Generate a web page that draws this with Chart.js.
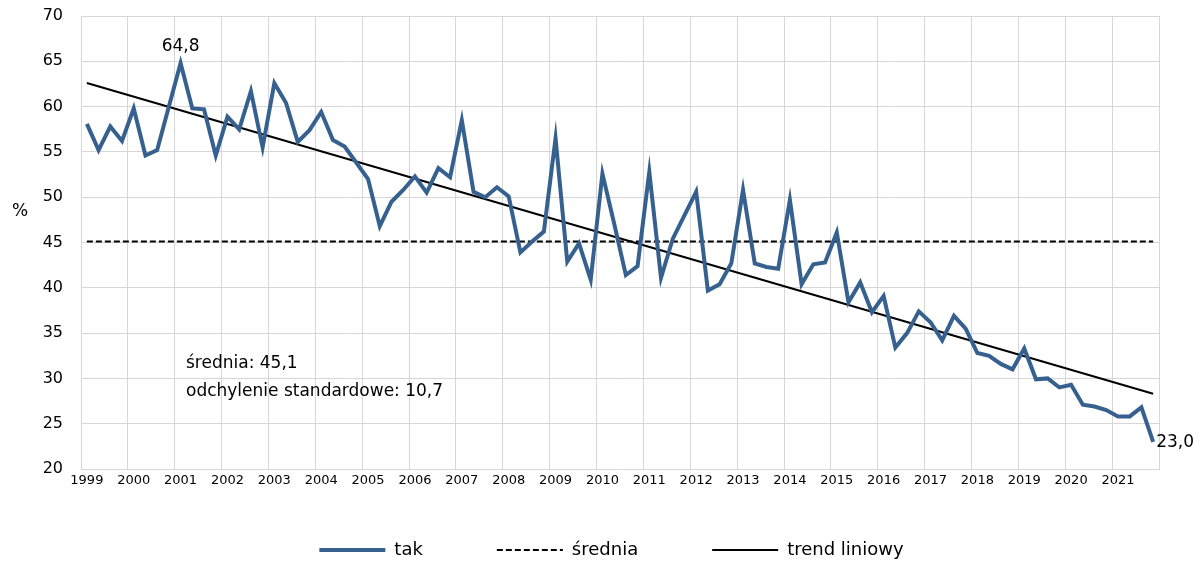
<!DOCTYPE html>
<html lang="pl">
<head>
<meta charset="utf-8">
<title>tak</title>
<script src="https://cdn.jsdelivr.net/npm/chart.js@4.4.1/dist/chart.umd.min.js"></script>
<style>
  html, body { margin: 0; padding: 0; background: #fff; }
  #wrap { width: 1203px; height: 565px; }
</style>
</head>
<body>
<div id="wrap"><canvas id="chart" width="1203" height="565"></canvas></div>
<script>
// quarterly data, 1999 Q1 - 2021 Q4
const years = [1999, 2000, 2001, 2002, 2003, 2004, 2005, 2006, 2007, 2008, 2009, 2010,
               2011, 2012, 2013, 2014, 2015, 2016, 2017, 2018, 2019, 2020, 2021];
const quarters = ['Q1', 'Q2', 'Q3', 'Q4'];

const takValues = [
  58.1, 55.2, 57.8, 56.2,   // 1999
  59.8, 54.6, 55.2, 60.0,   // 2000
  64.8, 59.8, 59.7, 54.6,   // 2001
  58.9, 57.5, 61.7, 55.5,   // 2002
  62.6, 60.4, 56.1, 57.4,   // 2003
  59.4, 56.3, 55.6, 53.8,   // 2004
  52.0, 46.8, 49.5, 50.8,   // 2005
  52.3, 50.5, 53.2, 52.2,   // 2006
  58.5, 50.6, 50.0, 51.1,   // 2007
  50.1, 43.9, 45.1, 46.2,   // 2008
  56.5, 42.9, 44.9, 40.9,   // 2009
  52.6, 47.1, 41.4, 42.4,   // 2010
  52.8, 41.1, 45.4, 48.0,   // 2011
  50.6, 39.7, 40.4, 42.7,   // 2012
  50.8, 42.7, 42.3, 42.1,   // 2013
  49.7, 40.4, 42.6, 42.8,   // 2014
  46.1, 38.4, 40.6, 37.3,   // 2015
  39.1, 33.4, 35.0, 37.4,   // 2016
  36.2, 34.2, 36.9, 35.5,   // 2017
  32.8, 32.5, 31.6, 31.0,   // 2018
  33.3, 29.9, 30.0, 29.0,   // 2019
  29.3, 27.1, 26.9, 26.5,   // 2020
  25.8, 25.8, 26.8, 23.0    // 2021
];

const meanValue = 45.1;
const stdValue = 10.7;
const trendStart = 62.6;
const trendEnd = 28.3;

const yTicks = { min: 20, max: 70, step: 5 };

const labels = [];
years.forEach(y => quarters.forEach(q => labels.push(y + ' ' + q)));

const FONT = "'DejaVu Sans', Verdana, sans-serif";
const fmt = v => v.toFixed(1).replace('.', ',');

// text drawn on top of the plot: y unit, stats box, point labels
const notes = {
  id: 'notes',
  afterDatasetsDraw(chart) {
    const { ctx, chartArea } = chart;
    const pts = chart.getDatasetMeta(0).data;
    ctx.save();
    ctx.fillStyle = '#000';
    ctx.textBaseline = 'middle';

    ctx.font = '17px ' + FONT;
    ctx.textAlign = 'center';
    ctx.fillText('%', chartArea.left - 61, 212);

    ctx.textAlign = 'left';
    ctx.fillText('średnia: ' + fmt(meanValue), chartArea.left + 105, 364);
    ctx.fillText('odchylenie standardowe: ' + fmt(stdValue), chartArea.left + 105, 392);

    const maxIdx = takValues.indexOf(Math.max(...takValues));
    ctx.textAlign = 'center';
    ctx.fillText(fmt(takValues[maxIdx]), pts[maxIdx].x, pts[maxIdx].y - 17);

    const last = takValues.length - 1;
    ctx.textAlign = 'left';
    ctx.fillText(fmt(takValues[last]), pts[last].x + 3, pts[last].y + 1);
    ctx.restore();
  }
};

// legend sits lower and further right than Chart.js would put it
const legendShift = {
  id: 'legendShift',
  afterLayout(chart) {
    const lg = chart.legend;
    lg.left += 32; lg.right += 32;
    lg.top -= 32; lg.bottom -= 32;
  }
};

const baseLabels = Chart.defaults.plugins.legend.labels.generateLabels;

new Chart(document.getElementById('chart'), {
  type: 'line',
  data: {
    labels: labels,
    datasets: [
      {
        label: 'tak',
        data: takValues,
        borderColor: '#36618f',
        borderWidth: 4,
        pointRadius: 0,
        tension: 0
      },
      {
        label: 'średnia',
        data: [{ x: labels[0], y: meanValue }, { x: labels[labels.length - 1], y: meanValue }],
        borderColor: '#000',
        borderWidth: 2,
        borderDash: [6, 3],
        pointRadius: 0
      },
      {
        label: 'trend liniowy',
        data: [{ x: labels[0], y: trendStart }, { x: labels[labels.length - 1], y: trendEnd }],
        borderColor: '#000',
        borderWidth: 2,
        pointRadius: 0
      }
    ]
  },
  options: {
    responsive: false,
    animation: false,
    layout: { padding: { left: 0, right: 44, top: 16, bottom: -36 } },
    scales: {
      x: {
        offset: true,
        grid: {
          offset: true,
          drawTicks: false,
          color: c => (c.type !== 'tick' || c.index % 4 === 0) ? '#d6d6d6' : 'rgba(0,0,0,0)'
        },
        border: { display: true, color: '#d6d6d6' },
        ticks: {
          autoSkip: false,
          maxRotation: 0,
          padding: 4,
          color: '#000',
          font: { family: FONT, size: 13 },
          callback: (v, i) => i % 4 === 0 ? String(years[i / 4]) : ''
        },
        afterFit: s => { s.height = 30; }
      },
      y: {
        min: yTicks.min,
        max: yTicks.max,
        grid: { color: '#d6d6d6', drawTicks: true, tickLength: 18, tickColor: 'rgba(0,0,0,0)' },
        border: { display: true, color: '#d6d6d6' },
        ticks: {
          stepSize: yTicks.step,
          padding: 0,
          color: '#000',
          font: { family: FONT, size: 16 }
        },
        afterFit: s => { s.width = 81; }
      }
    },
    plugins: {
      legend: {
        position: 'bottom',
        labels: {
          usePointStyle: true,
          pointStyle: 'line',
          pointStyleWidth: 66,
          padding: 74,
          color: '#000',
          font: { family: FONT, size: 18 },
          generateLabels: chart => baseLabels(chart).map(item => {
            const ds = chart.data.datasets[item.datasetIndex];
            item.lineDash = ds.borderDash || [];
            item.lineWidth = ds.borderWidth;
            return item;
          })
        }
      },
      tooltip: { enabled: false }
    }
  },
  plugins: [notes, legendShift]
});
</script>
</body>
</html>
